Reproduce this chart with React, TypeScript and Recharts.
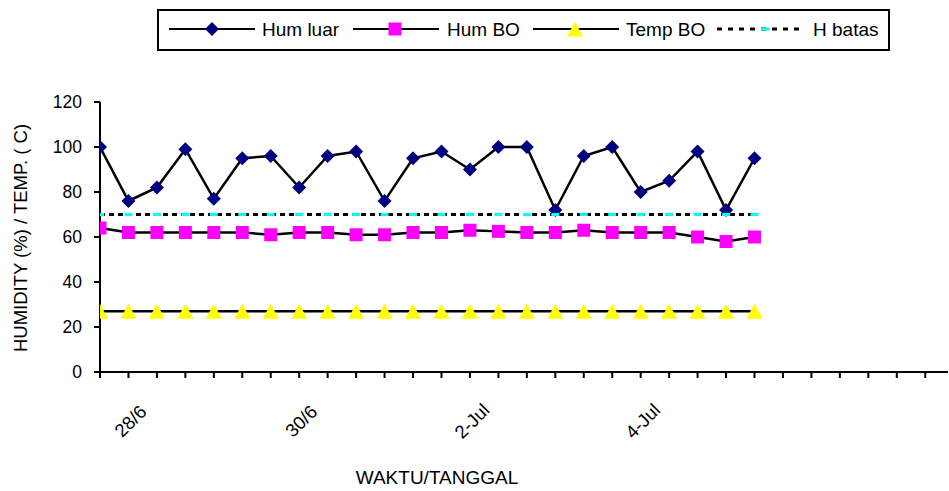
import React from 'react';
import { LineChart, Line, XAxis, YAxis, Legend } from 'recharts';

const timeIndex = [0, 1, 2, 3, 4, 5, 6, 7, 8, 9, 10, 11, 12, 13, 14, 15, 16, 17, 18, 19, 20, 21, 22, 23];
const humLuar = [100, 76, 82, 99, 77, 95, 96, 82, 96, 98, 76, 95, 98, 90, 100, 100, 72, 96, 100, 80, 85, 98, 72, 95];
const humBO = [64, 62, 62, 62, 62, 62, 61, 62, 62, 61, 61, 62, 62, 63, 62.5, 62, 62, 63, 62, 62, 62, 60, 58, 60];
const tempBO = [27, 27, 27, 27, 27, 27, 27, 27, 27, 27, 27, 27, 27, 27, 27, 27, 27, 27, 27, 27, 27, 27, 27, 27];
const hBatas = [70, 70, 70, 70, 70, 70, 70, 70, 70, 70, 70, 70, 70, 70, 70, 70, 70, 70, 70, 70, 70, 70, 70, 70];

const xTicks = [0, 1, 2, 3, 4, 5, 6, 7, 8, 9, 10, 11, 12, 13, 14, 15, 16, 17, 18, 19, 20, 21, 22, 23, 24, 25, 26, 27, 28, 29];
const tickLabelPositions = [1, 7, 13, 19];
const tickLabels = ['28/6', '30/6', '2-Jul', '4-Jul'];
const yTicks = [0, 20, 40, 60, 80, 100, 120];

const seriesNames = ['Hum luar', 'Hum BO', 'Temp BO', 'H batas'];

const data = timeIndex.map((t, i) => ({
  t,
  humLuar: humLuar[i],
  humBO: humBO[i],
  tempBO: tempBO[i],
  hBatas: hBatas[i],
}));

const FONT = '"Liberation Sans", Arial, sans-serif';

const Diamond = ({ cx, cy, r = 7 }: any) => (
  <polygon points={`${cx},${cy - r} ${cx + r},${cy} ${cx},${cy + r} ${cx - r},${cy}`} fill="#000080" />
);
const Square = ({ cx, cy, s = 6.5 }: any) => (
  <rect x={cx - s} y={cy - s} width={2 * s} height={2 * s} fill="#FF00FF" />
);
const Triangle = ({ cx, cy }: any) => (
  <polygon points={`${cx},${cy - 7.5} ${cx + 8},${cy + 7.5} ${cx - 8},${cy + 7.5}`} fill="#FFFF00" />
);
const CyanDash = ({ cx, cy }: any) => (
  <rect x={cx - 4} y={cy - 1.5} width={8} height={3} fill="#00FFFF" />
);

const dotDiamond = (p: any) => <Diamond key={`d${p.index}`} cx={p.cx} cy={p.cy} />;
const dotSquare = (p: any) => <Square key={`s${p.index}`} cx={p.cx} cy={p.cy} />;
const dotTriangle = (p: any) => <Triangle key={`t${p.index}`} cx={p.cx} cy={p.cy} />;
const dotCyan = (p: any) => <CyanDash key={`c${p.index}`} cx={p.cx} cy={p.cy} />;

const XTick = (props: any) => {
  const { x, y, payload } = props;
  const idx = tickLabelPositions.indexOf(payload.value);
  if (idx < 0) return <g />;
  const cx = x + 2;
  const cy = y + 41;
  return (
    <text
      x={cx}
      y={cy}
      transform={`rotate(-45, ${cx}, ${cy})`}
      textAnchor="middle"
      dominantBaseline="central"
      fontFamily={FONT}
      fontSize={18.5}
      fill="#000"
    >
      {tickLabels[idx]}
    </text>
  );
};

const LegendContent = () => {
  const items = [
    { line: [12, 98], mk: 55, tx: 105, kind: 'diamond' },
    { line: [196, 282], mk: 238, tx: 290, kind: 'square' },
    { line: [376, 462], mk: 418, tx: 469, kind: 'triangle' },
    { line: [560, 648], mk: 608, tx: 656, kind: 'cyan' },
  ];
  const ly = 20;
  return (
    <svg width={734} height={42} style={{ display: 'block' }}>
      <rect x={1} y={1} width={731} height={40} fill="#fff" stroke="#000" strokeWidth={2} />
      {items.map((it, i) => (
        <g key={i}>
          <line
            x1={it.line[0]}
            x2={it.line[1]}
            y1={ly}
            y2={ly}
            stroke="#000"
            strokeWidth={it.kind === 'cyan' ? 3 : 2}
            strokeDasharray={it.kind === 'cyan' ? '5 6' : undefined}
          />
          {it.kind === 'diamond' && <Diamond cx={it.mk} cy={ly} r={7} />}
          {it.kind === 'square' && <Square cx={it.mk} cy={ly} />}
          {it.kind === 'triangle' && <Triangle cx={it.mk} cy={ly} />}
          {it.kind === 'cyan' && <CyanDash cx={it.mk} cy={ly} />}
          <text x={it.tx} y={27} fontFamily={FONT} fontSize={19} fill="#000">
            {seriesNames[i]}
          </text>
        </g>
      ))}
    </svg>
  );
};

const YLabel = (props: any) => {
  const vb = props.viewBox || { x: 0, y: 102, width: 100, height: 270 };
  const cx = 20;
  const cy = vb.y + vb.height / 2 + 1;
  return (
    <text
      x={cx}
      y={cy}
      transform={`rotate(-90, ${cx}, ${cy})`}
      textAnchor="middle"
      dominantBaseline="central"
      fontFamily={FONT}
      fontSize={18.5}
      fill="#000"
    >
      HUMIDITY (%) / TEMP. ( C)
    </text>
  );
};

const XLabel = (props: any) => {
  const vb = props.viewBox || { x: 100, y: 372, width: 848, height: 60 };
  return (
    <text
      x={437}
      y={vb.y + 112}
      textAnchor="middle"
      fontFamily={FONT}
      fontSize={19}
      fill="#000"
    >
      WAKTU/TANGGAL
    </text>
  );
};

export default function App() {
  return (
    <div style={{ position: 'absolute', left: 0, top: 0, width: 949, height: 491, background: '#fff' }}>
      <LineChart width={949} height={491} data={data} margin={{ top: 102, right: 1, bottom: 59, left: 0 }}>
        <XAxis
          type="number"
          dataKey="t"
          domain={[0, 29.8]}
          ticks={xTicks}
          interval={0}
          allowDataOverflow
          tickSize={6}
          tickMargin={2}
          height={60}
          axisLine={{ stroke: '#000', strokeWidth: 2 }}
          tickLine={{ stroke: '#000', strokeWidth: 2 }}
          tick={<XTick />}
          label={<XLabel />}
        />
        <YAxis
          type="number"
          domain={[0, 120]}
          ticks={yTicks}
          interval={0}
          width={100}
          tickSize={6}
          tickMargin={12}
          axisLine={{ stroke: '#000', strokeWidth: 2 }}
          tickLine={{ stroke: '#000', strokeWidth: 2 }}
          tick={{ fill: '#000', fontSize: 17.5, fontFamily: FONT }}
          label={<YLabel />}
        />
        <Legend
          layout="horizontal"
          verticalAlign="middle"
          align="center"
          content={<LegendContent />}
          wrapperStyle={{ position: 'absolute', left: 157, top: 9, width: 734, height: 42 }}
        />
        <Line
          type="linear"
          dataKey="humLuar"
          name={seriesNames[0]}
          stroke="#000"
          strokeWidth={2.5}
          dot={dotDiamond}
          activeDot={false}
          isAnimationActive={false}
        />
        <Line
          type="linear"
          dataKey="humBO"
          name={seriesNames[1]}
          stroke="#000"
          strokeWidth={2.5}
          dot={dotSquare}
          activeDot={false}
          isAnimationActive={false}
        />
        <Line
          type="linear"
          dataKey="tempBO"
          name={seriesNames[2]}
          stroke="#000"
          strokeWidth={2.5}
          dot={dotTriangle}
          activeDot={false}
          isAnimationActive={false}
        />
        <Line
          type="linear"
          dataKey="hBatas"
          name={seriesNames[3]}
          stroke="#000"
          strokeWidth={3}
          strokeDasharray="5 4"
          dot={dotCyan}
          activeDot={false}
          isAnimationActive={false}
        />
      </LineChart>
    </div>
  );
}
